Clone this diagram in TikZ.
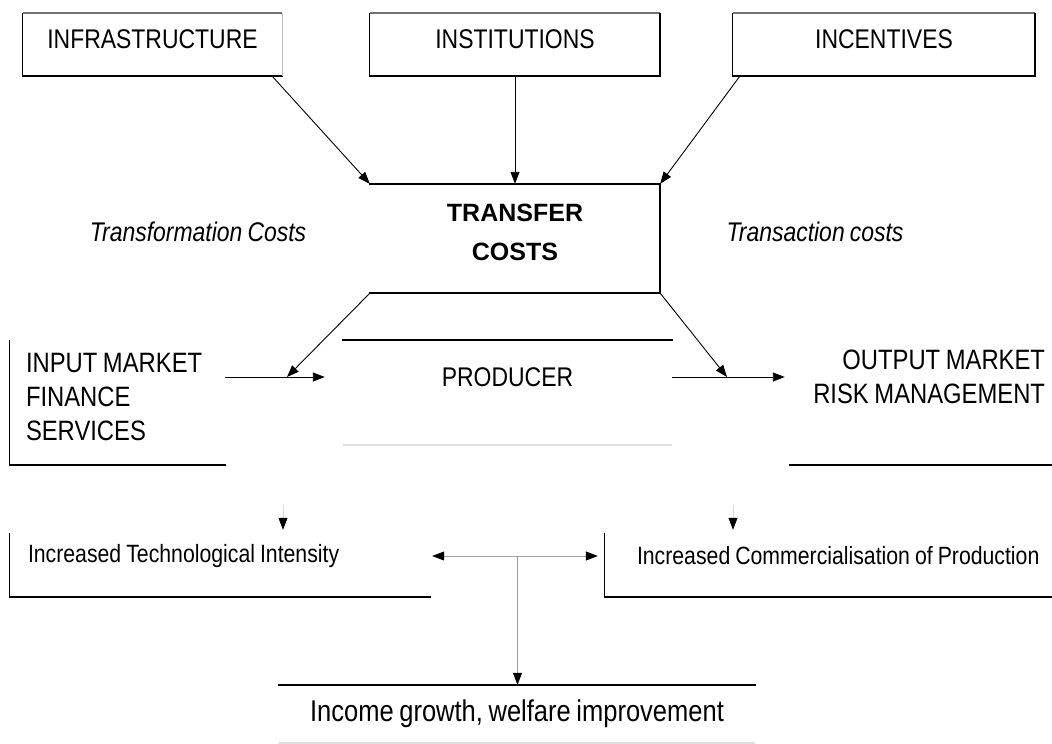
\documentclass[tikz,border=0pt]{standalone}
\usepackage{fontspec}
\newfontfamily\nf[FakeStretch=0.85,WordSpace=0.8]{Liberation Sans}
\newfontfamily\nfw{Liberation Sans}
\usetikzlibrary{arrows.meta,calc}
\newcommand\tightsp{\spaceskip=0.2em\xspaceskip=0.2em\relax}
\tikzset{
  lbl/.style={font=\nf\fontsize{27}{33}\selectfont, inner sep=0pt},
  topbox/.style={lbl, font=\nf\fontsize{27}{33}\selectfont, minimum height=63pt, text depth=10pt},
  arr/.style={-{Triangle[length=12pt,width=9pt]}, line width=0.9pt},
  farr/.style={draw=black!15, line width=0.8pt, -{Triangle[length=12pt,width=9pt,color=black]}},
  darr/.style={draw=black!35, line width=0.8pt, {Triangle[length=12pt,width=9pt,color=black]}-{Triangle[length=12pt,width=9pt,color=black]}},
  heavy/.style={line width=2.2pt, line cap=rect},
  thinl/.style={line width=1pt},
  grayl/.style={line width=1.6pt, draw=black!55},
  faint/.style={line width=2pt, draw=black!12},
}
\begin{document}
\begin{tikzpicture}[x=1pt,y=-1pt]
\useasboundingbox (0,0) rectangle (1052,744);
\fill[white] (0,0) rectangle (1052,744);

% top boxes
\node[topbox, minimum width=259pt] (infra) at (152.5,44.5) {INFRASTRUCTURE};
\node[topbox, minimum width=290pt] (inst) at (515,44.5) {INSTITUTIONS};
\node[topbox, minimum width=302pt] (ince) at (884,44.5) {INCENTIVES};
\foreach \n in {infra,inst,ince}{
  \draw[grayl] (\n.north west) -- (\n.north east);
  \draw[thinl] (\n.north west) -- (\n.south west);
  \draw[heavy] (\n.south west) -- (\n.south east);
}
\draw[thinl, draw=black!25] (infra.north east) -- (infra.south east);
\draw[thinl, line width=1.6pt] (inst.north east) -- (inst.south east);
\draw[thinl, line width=1.6pt] (ince.north east) -- (ince.south east);

% transfer costs
\node[font=\nfw\bfseries\fontsize{25}{39}\selectfont, align=center, minimum width=290pt, minimum height=109pt, inner sep=0pt, text depth=12pt] (tc) at (515,238.5) {TRANSFER\\COSTS};
\draw[heavy] (tc.north west) -- (tc.north east) -- (tc.south east) -- (tc.south west);

\draw[arr] ([xshift=-10pt]infra.south east) -- (tc.north west);
\draw[arr] (inst.south) -- (tc.north);
\draw[arr] ([xshift=7pt]ince.south west) -- (tc.north east);

\node[lbl, font=\nf\itshape\fontsize{27}{33}\selectfont] (trf) at (198,232) {Transformation Costs};
\node[lbl, font=\nf\itshape\fontsize{27}{33}\selectfont] (trc) at (815,232) {Transaction costs};

% producer row
\node[lbl, font=\nf\fontsize{27}{33}\selectfont, minimum width=329pt, minimum height=74pt] (prod) at (507.5,377) {PRODUCER};
\draw[heavy] (prod.north west) -- (prod.north east);
\draw[faint] ([yshift=-31pt]prod.south west) -- ([yshift=-31pt]prod.south east);

\node[lbl, font=\nf\fontsize{28}{34}\selectfont, align=left, text width=183pt, inner xsep=16pt, minimum height=136pt] (inm) at (117.5,397) {\tightsp INPUT MARKET\\FINANCE\\SERVICES};
\draw[thinl] (inm.south west) -- ++(0,-125);
\draw[heavy] (inm.south west) -- (inm.south east);

\node[lbl, font=\nf\fontsize{28}{34}\selectfont, align=right, text width=248pt, inner xsep=7pt, minimum height=176pt] (outm) at (921,377) {\tightsp OUTPUT MARKET\\RISK MANAGEMENT};
\draw[heavy] (outm.south west) -- (outm.south east);

\coordinate (jin) at (287,377);
\coordinate (jout) at (727,377);
\draw[arr, shorten >=18pt] (inm.east |- prod.west) -- (prod.west);
\draw[arr, shorten >=5pt] (prod.east) -- (prod.east -| outm.west);
\draw[arr] (tc.south west) -- (jin);
\draw[arr] (tc.south east) -- (jout);

% second row
\node[lbl, font=\nf\fontsize{25}{30}\selectfont, align=left, text width=384pt, inner xsep=18pt, minimum height=82pt] (tech) at (220,556) {\tightsp Increased Technological Intensity};
\draw[thinl] (tech.south west) -- ++(0,-64);
\draw[heavy] (tech.south west) -- (tech.south east);

\node[lbl, font=\nf\fontsize{25}{30}\selectfont, align=left, text width=420pt, inner xsep=32pt, minimum height=82pt] (comm) at (847,556) {\tightsp Increased Commercialisation of Production};
\draw[thinl] (comm.south west) -- ++(0,-64);
\draw[heavy] (comm.south west) -- (comm.south east);

\draw[farr, shorten <=40pt, shorten >=-15pt] ([xshift=-4pt]jin |- inm.south) -- ([xshift=-4pt]jin |- tech.north);
\draw[farr, shorten <=40pt, shorten >=-15pt] ([xshift=6pt]jout |- outm.south) -- ([xshift=6pt]jout |- comm.north);

\draw[darr, shorten <=2pt, shorten >=7pt] (tech.east) -- (comm.west);

% income
\node[lbl, font=\nf\fontsize{30}{34}\selectfont, minimum width=475pt, minimum height=58pt] (inc) at (517,714) {Income growth, welfare improvement};
\draw[heavy] (inc.north west) -- (inc.north east);
\draw[faint] (inc.south west) -- (inc.south east);

\coordinate (mid) at ($(tech.east)!0.5!(comm.west)$);
\draw[farr, draw=black!40] (mid) -- (mid |- inc.north);
\end{tikzpicture}
\end{document}
